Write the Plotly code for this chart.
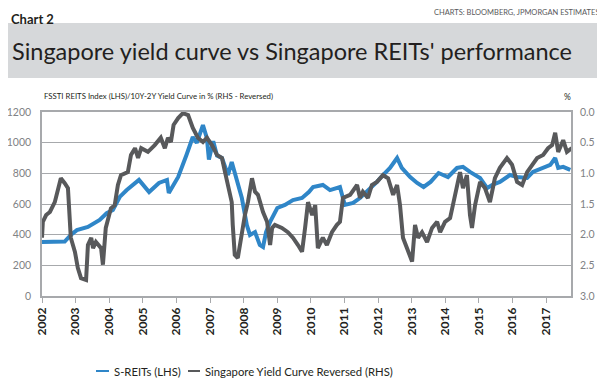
import plotly.graph_objects as go

# ---------------- data ----------------
reit_dates = ["2002-01-01","2002-05-20","2002-09-05","2002-11-10","2003-01-15","2003-05-15","2003-09-20",
    "2003-12-05","2004-02-10","2004-04-25","2004-07-10","2004-11-20","2005-03-10","2005-06-25","2005-09-20",
    "2005-10-10","2006-01-20","2006-04-20","2006-06-28","2006-08-10","2006-10-16","2006-11-28","2006-12-20",
    "2007-02-05","2007-03-18","2007-05-11","2007-07-15","2007-08-25","2007-10-20","2007-12-13","2008-02-05",
    "2008-03-10","2008-05-04","2008-06-25","2008-07-30","2008-09-01","2008-10-15","2009-01-01","2009-03-25",
    "2009-06-20","2009-09-27","2009-12-10","2010-01-25","2010-05-11","2010-07-28","2010-11-13","2011-01-05",
    "2011-04-05","2011-06-19","2011-09-01","2011-12-20","2012-02-24","2012-05-10","2012-07-26","2012-09-15",
    "2012-12-15","2013-03-01","2013-05-10","2013-07-25","2013-10-20","2014-01-30","2014-05-08","2014-07-12",
    "2014-09-26","2015-01-14","2015-04-01","2015-05-25","2015-08-17","2015-12-05","2016-02-20","2016-06-08",
    "2016-08-10","2016-11-29","2017-02-15","2017-04-09","2017-05-12","2017-07-05","2017-09-20"]
reit_values = [352,350,355,398,430,450,496,540,561,646,691,757,678,737,757,672,776,920,1037,998,1115,1030,890,
    1010,915,900,789,874,744,639,463,398,417,333,320,417,483,574,594,626,639,678,711,724,691,711,594,607,639,
    678,744,789,835,900,835,776,737,711,744,802,776,835,842,809,770,704,724,744,789,776,770,809,835,855,900,
    835,842,822]

curve_dates = ["2002-01-01","2002-01-10","2002-02-15","2002-03-28","2002-05-20","2002-07-15","2002-07-25",
    "2002-09-05","2002-10-10","2002-11-10","2002-12-25","2003-01-25","2003-03-01","2003-04-25","2003-05-15",
    "2003-06-20","2003-07-10","2003-08-10","2003-10-05","2003-10-25","2003-11-25","2004-01-20","2004-03-01",
    "2004-04-05","2004-05-08","2004-07-22","2004-08-25","2004-10-08","2004-11-10","2004-12-14","2005-02-25",
    "2005-05-10","2005-07-15","2005-08-28","2005-10-01","2005-11-02","2005-12-01","2006-01-20","2006-03-12",
    "2006-05-08","2006-06-28","2006-08-22","2006-10-16","2006-11-28","2007-01-22","2007-03-18","2007-05-11",
    "2007-06-13","2007-07-15","2007-08-25","2007-09-05","2007-09-27","2007-10-30","2007-12-13","2008-01-15",
    "2008-02-17","2008-04-01","2008-05-04","2008-06-05","2008-07-30","2008-09-12","2008-10-15","2008-11-06",
    "2008-12-06","2009-02-20","2009-04-26","2009-06-20","2009-08-14","2009-09-27","2009-10-30","2009-12-01",
    "2010-01-15","2010-02-17","2010-03-18","2010-05-11","2010-06-24","2010-08-18","2010-10-11","2010-11-13",
    "2010-12-16","2011-03-03","2011-05-18","2011-06-19","2011-07-20","2011-09-13","2011-10-26","2011-12-20",
    "2012-02-24","2012-04-19","2012-06-13","2012-07-26","2012-08-27","2012-09-28","2012-11-11","2013-01-05",
    "2013-02-06","2013-03-11","2013-04-23","2013-06-17","2013-08-10","2013-10-04","2013-11-06","2013-12-29",
    "2014-02-22","2014-03-26","2014-05-08","2014-06-10","2014-07-12","2014-08-24","2014-09-26","2014-10-18",
    "2014-11-20","2015-01-14","2015-03-08","2015-05-01","2015-06-24","2015-08-17","2015-11-02","2015-12-27",
    "2016-02-20","2016-04-15","2016-06-08","2016-08-01","2016-09-25","2016-11-29","2017-01-22","2017-03-07",
    "2017-04-09","2017-05-12","2017-07-05","2017-08-15","2017-10-08"]
curve_values = [2.05,1.79,1.68,1.63,1.47,1.14,1.08,1.16,1.24,2.05,2.28,2.54,2.71,2.74,2.17,2.05,2.22,2.12,2.22,
    2.49,1.89,1.57,1.52,1.19,1.03,0.98,0.70,0.59,0.75,0.59,0.65,0.54,0.42,0.59,0.42,0.49,0.21,0.10,0.02,0.05,
    0.26,0.42,0.49,0.42,0.54,0.70,0.75,0.98,1.19,1.47,1.84,2.33,2.38,1.96,1.68,1.47,1.08,1.30,1.35,1.63,1.79,
    2.17,1.89,1.84,1.89,1.96,2.05,2.17,2.28,1.89,1.47,1.68,1.52,2.22,2.05,2.17,1.96,1.84,1.79,1.40,1.35,1.19,
    1.40,1.30,1.40,1.19,1.14,1.03,1.08,1.35,1.19,1.52,2.05,2.22,2.44,1.84,2.05,1.96,2.12,1.89,1.79,1.96,1.79,
    1.73,1.52,1.24,0.98,1.24,1.03,1.68,1.89,1.52,1.14,1.24,1.47,1.08,0.91,0.75,0.86,1.14,1.19,0.98,0.86,0.75,
    0.70,0.59,0.54,0.34,0.65,0.46,0.65,0.59]

years = [str(y) for y in range(2002, 2018)]
left_ticks = [0, 200, 400, 600, 800, 1000, 1200]
right_ticks = [0.0, 0.5, 1.0, 1.5, 2.0, 2.5, 3.0]

# ---------------- style ----------------
BLUE = "#2f86c8"
GREY = "#58595b"
GRID = "#a7a9ac"
FONT = "Lato, Roboto, sans-serif"

OFF = 8                      # browser body margin
W, H = 605 - OFF, 383 - OFF
PL, PR, PT, PB = 42, 571, 112, 296   # target plot box in window pixels
L, R, T, B = PL - OFF, W - (PR - OFF), PT - OFF, H - (PB - OFF)
pw, ph = PR - PL, PB - PT
def px(x): return (x - PL) / pw
def py(y): return (PB - y) / ph

fig = go.Figure()
fig.add_trace(go.Scatter(x=reit_dates, y=reit_values, mode="lines", name="S-REITs (LHS)",
                         line=dict(color=BLUE, width=4), yaxis="y", showlegend=False))
fig.add_trace(go.Scatter(x=curve_dates, y=curve_values, mode="lines",
                         name="Singapore Yield Curve Reversed (RHS)",
                         line=dict(color=GREY, width=4), yaxis="y2", showlegend=False))

shapes = [
    dict(type="rect", xref="paper", yref="paper", x0=px(8), x1=px(603), y0=py(78), y1=py(23),
         fillcolor="#d6d8da", line=dict(width=0), layer="below"),
    dict(type="line", xref="paper", yref="paper", x0=px(96), x1=px(109), y0=py(371), y1=py(371),
         line=dict(color=BLUE, width=2)),
    dict(type="line", xref="paper", yref="paper", x0=px(188), x1=px(200), y0=py(371), y1=py(371),
         line=dict(color=GREY, width=2)),
]

ann = [
    dict(text="<b>Chart 2</b>", x=px(9), y=py(9), xanchor="left", yanchor="top",
         font=dict(size=13, color="#231f20", family=FONT)),
    dict(text="CHARTS: BLOOMBERG, JPMORGAN ESTIMATES", x=px(601), y=py(13), xanchor="right", yanchor="middle",
         font=dict(size=7.5, color="#58595b", family=FONT)),
    dict(text="Singapore yield curve vs Singapore REITs' performance", x=px(10), y=py(51),
         xanchor="left", yanchor="middle", font=dict(size=23.5, color="#231f20", family=FONT)),
    dict(text="FSSTI REITS Index (LHS)/10Y-2Y Yield Curve in % (RHS - Reversed)", x=px(42), y=py(96),
         xanchor="left", yanchor="middle", font=dict(size=7.8, color="#231f20", family=FONT)),
    dict(text="%", x=px(567), y=py(97), xanchor="center", yanchor="middle",
         font=dict(size=8.5, color="#231f20", family=FONT)),
    dict(text="S-REITs (LHS)", x=px(112), y=py(371), xanchor="left", yanchor="middle",
         font=dict(size=11.3, color="#231f20", family=FONT)),
    dict(text="Singapore Yield Curve Reversed (RHS)", x=px(203), y=py(371), xanchor="left", yanchor="middle",
         font=dict(size=11.3, color="#231f20", family=FONT)),
]
for a in ann:
    a.update(xref="paper", yref="paper", showarrow=False)

fig.update_layout(
    width=W, height=H, margin=dict(l=L, r=R, t=T, b=B, autoexpand=False),
    paper_bgcolor="white", plot_bgcolor="white",
    shapes=shapes, annotations=ann, showlegend=False,
    xaxis=dict(type="date", range=["2002-01-01", "2017-09-28"],
               tickvals=[y + "-01-01" for y in years], ticktext=["<b>%s</b>" % y for y in years],
               tickangle=-90, ticks="outside", ticklen=5, tickcolor=GRID, tickwidth=1,
               showgrid=False, showline=True, linecolor=GRID, linewidth=1.5, mirror=True,
               tickfont=dict(size=12, color="#231f20", family=FONT), zeroline=False),
    yaxis=dict(range=[0, 1200], tickvals=left_ticks, showgrid=True, gridcolor=GRID, gridwidth=1,
               showline=True, linecolor=GRID, linewidth=1.5, mirror=True, zeroline=False,
               ticks="", ticklabelstandoff=7,
               tickfont=dict(size=10.5, color="#808285", family=FONT)),
    yaxis2=dict(range=[3, 0], overlaying="y", side="right", tickvals=right_ticks,
                tickformat=".1f", showgrid=False, zeroline=False, showline=False, ticks="",
                ticklabelstandoff=8, tickfont=dict(size=10.5, color="#808285", family=FONT)),
)

fig.write_html("out.html")
